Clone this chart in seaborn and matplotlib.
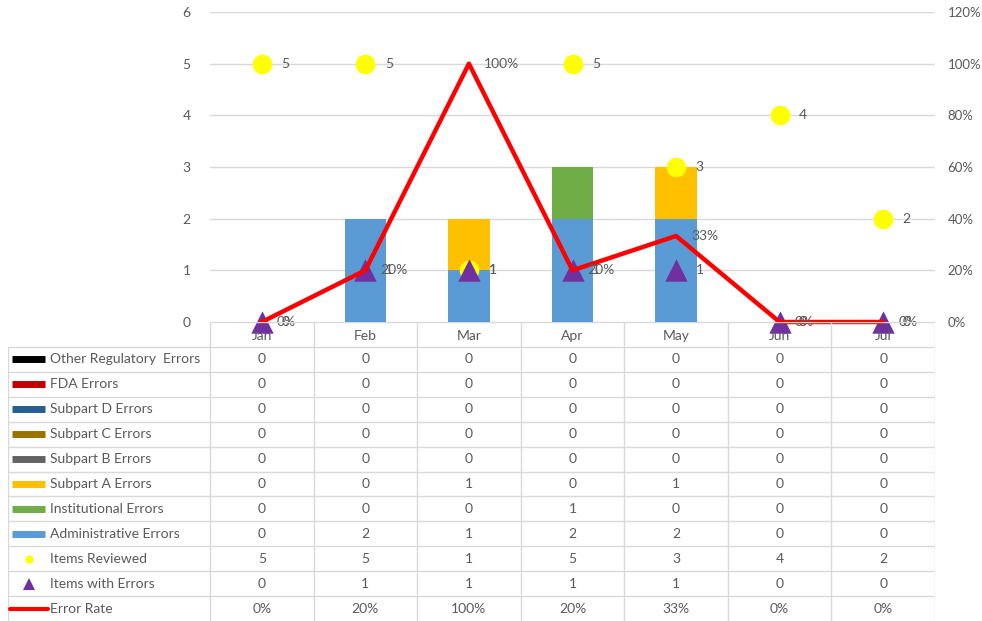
import seaborn as sns
import matplotlib.pyplot as plt
import numpy as np
from matplotlib.ticker import PercentFormatter

months = ["Jan", "Feb", "Mar", "Apr", "May", "Jun", "Jul"]
other_reg_errors = [0, 0, 0, 0, 0, 0, 0]
fda_errors = [0, 0, 0, 0, 0, 0, 0]
subpart_d_errors = [0, 0, 0, 0, 0, 0, 0]
subpart_c_errors = [0, 0, 0, 0, 0, 0, 0]
subpart_b_errors = [0, 0, 0, 0, 0, 0, 0]
subpart_a_errors = [0, 0, 1, 0, 1, 0, 0]
institutional_errors = [0, 0, 0, 1, 0, 0, 0]
admin_errors = [0, 2, 1, 2, 2, 0, 0]
items_reviewed = [5, 5, 1, 5, 3, 4, 2]
items_with_errors = [0, 1, 1, 1, 1, 0, 0]
error_rate = [0.0, 0.20, 1.00, 0.20, 0.333, 0.0, 0.0]

# stack order, bottom to top
stack = [
    ("Administrative Errors", admin_errors, "#5b9bd5"),
    ("Institutional Errors", institutional_errors, "#70ad47"),
    ("Subpart A Errors", subpart_a_errors, "#ffc000"),
    ("Subpart B Errors", subpart_b_errors, "#636363"),
    ("Subpart C Errors", subpart_c_errors, "#997300"),
    ("Subpart D Errors", subpart_d_errors, "#255e91"),
    ("FDA Errors", fda_errors, "#c00000"),
    ("Other Regulatory  Errors", other_reg_errors, "#000000"),
]

txt = "#595959"
grid = "#d9d9d9"
sns.set_style("white")
plt.rcParams["font.family"] = ["Lato", "DejaVu Sans"]
plt.rcParams["font.size"] = 9

fig = plt.figure(figsize=(9.82, 6.21), dpi=100)
ax = fig.add_axes([210/982, (621-322)/621, 725/982, 310/621])

# stacked bars: draw cumulative totals from the top down
cum = np.cumsum([s[1] for s in stack], axis=0)
for (name, vals, col), tot in reversed(list(zip(stack, cum))):
    sns.barplot(x=months, y=tot, color=col, saturation=1, width=0.4,
                errorbar=None, linewidth=0, ax=ax)

xpos = np.arange(len(months))
sns.scatterplot(x=xpos, y=items_reviewed, color="#ffff00", s=200,
                linewidth=0, zorder=4, clip_on=False, ax=ax)
sns.scatterplot(x=xpos, y=items_with_errors, color="#7030a0", marker="^",
                s=260, linewidth=0, zorder=5, clip_on=False, ax=ax)
for i, v in enumerate(items_reviewed):
    ax.annotate(str(v), (i, v), xytext=(14, 0), textcoords="offset points",
                va="center", color=txt, fontsize=10)
for i, v in enumerate(items_with_errors):
    ax.annotate(str(v), (i, v), xytext=(14, 0), textcoords="offset points",
                va="center", color=txt, fontsize=10)

ax.set_ylim(0, 6)
ax.set_xlim(-0.5, 6.5)
ax.set_yticks(range(7))
ax.yaxis.grid(True, color=grid, lw=1)
ax.set_axisbelow(True)
ax.tick_params(axis="y", length=0, pad=14, labelcolor=txt, labelsize=10)
ax.tick_params(axis="x", labelbottom=False, length=0)
ax.set_xlabel("")
sns.despine(ax=ax, left=True, bottom=True)

ax2 = ax.twinx()
sns.lineplot(x=xpos, y=error_rate, color="#ff0000", lw=3.2, ax=ax2, zorder=3,
             clip_on=False)
for i, v in enumerate(error_rate):
    ax2.annotate(f"{v:.0%}", (i, v), xytext=(11, 0), textcoords="offset points",
                 va="center", color=txt, fontsize=10)
ax2.set_ylim(0, 1.2)
ax2.set_yticks(np.arange(0, 1.21, 0.2))
ax2.yaxis.set_major_formatter(PercentFormatter(1.0, decimals=0))
ax2.tick_params(axis="y", length=0, pad=9, labelcolor=txt, labelsize=9.5)
sns.despine(ax=ax2, left=True, bottom=True, right=True)

# data table under the chart
tab = fig.add_axes([8/982, 0, 927/982, 299/621])
x0 = -0.5 - 202/103.57
tab.set_xlim(x0, 6.5)
tab.set_ylim(12, 0)
tab.axis("off")
n = len(months)
tab.plot([-0.5, 6.5], [0, 0], color=grid, lw=1)
for r in range(1, 12):
    tab.plot([x0, 6.5], [r, r], color=grid, lw=1)
for k in range(n + 1):
    tab.plot([k - 0.5, k - 0.5], [0, 12], color=grid, lw=1)
tab.plot([x0, x0], [1, 12], color=grid, lw=1)
for i, m in enumerate(months):
    tab.text(i, 0.55, m, ha="center", va="center", color=txt, fontsize=10)

rows = [(name, vals, col, "bar") for name, vals, col in reversed(stack)]
rows += [("Items Reviewed", items_reviewed, "#ffff00", "dot"),
         ("Items with Errors", items_with_errors, "#7030a0", "tri"),
         ("Error Rate", error_rate, "#ff0000", "line")]
kx0, kx1 = x0 + 4/103.57, x0 + 37/103.57
lx = x0 + 42/103.57
for r, (name, vals, col, kind) in enumerate(rows, start=1):
    yc = r + 0.5
    if kind == "bar":
        tab.plot([kx0, kx1], [yc, yc], color=col, lw=5, solid_capstyle="butt")
    elif kind == "dot":
        tab.plot([(kx0 + kx1) / 2], [yc], "o", color=col, ms=6, mew=0)
    elif kind == "tri":
        tab.plot([(kx0 + kx1) / 2], [yc], "^", color=col, ms=8, mew=0)
    else:
        tab.plot([x0 + 2/103.57, kx1 + 3/103.57], [yc, yc], color=col, lw=3,
                 solid_capstyle="round")
    tab.text(lx, yc, name, ha="left", va="center", color=txt, fontsize=10)
    for i, v in enumerate(vals):
        s = f"{v:.0%}" if kind == "line" else str(v)
        tab.text(i, yc, s, ha="center", va="center", color=txt, fontsize=10)

fig.savefig("out.png", dpi=100)
